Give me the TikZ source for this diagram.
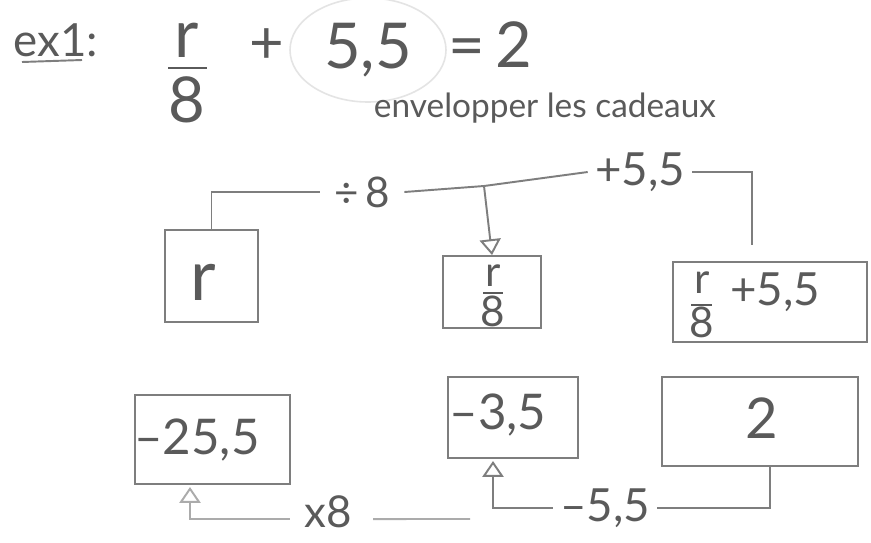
\documentclass[tikz,border=0pt]{standalone}
\usepackage{fontspec}
\setmainfont{Lato}
\usetikzlibrary{arrows.meta}
\definecolor{lead}{HTML}{5A5A5A}
\definecolor{graphite}{HTML}{7E7E7E}
\definecolor{faint}{HTML}{ABABAB}
\definecolor{ghost}{HTML}{E4E4E4}
\newcommand\fs[1]{\fontsize{#1}{#1}\selectfont}
\begin{document}
\begin{tikzpicture}[x=0.02cm,y=-0.02cm,
  pencil/.style={draw=graphite, line width=1.1pt},
  box/.style={draw=graphite, line width=1.1pt, inner sep=0pt},
  hand/.style={text=lead, inner sep=0pt},
  tip/.style={-{Triangle[open,length=9pt,width=12pt,line width=1.1pt]}}
]
\fill[white] (0,0) rectangle (871,542);
\useasboundingbox (0,0) rectangle (871,542);

% heading and the equation
\node[hand] (ex) at (56,40) {\fs{26}ex1:};
\draw[pencil] (22,62) -- (82,60);
\node[hand] (eqr) at (187,40) {\fs{38}r};
\draw[draw=lead, line width=1.1pt] (168,68) -- (207,68);
\node[hand] (eq8) at (187,100) {\fs{36}8};
\node[hand] (eqplus) at (267,46) {\fs{34}+};
\node[hand] (eq55) at (368,50) {\fs{36}5,5};
\draw[draw=ghost, line width=0.9pt] (368,50) ellipse [x radius=78, y radius=52];
\node[hand] (eqeq) at (490,45) {\fs{36}=\,2};
\node[hand] (env) at (545,108) {\fs{19}envelopper les cadeaux};

% first row of boxes
\node[box, minimum width=1.86cm, minimum height=1.84cm] (br) at (211.5,276) {};
\node[hand] (tr) at (203,282) {\fs{40}r};
\node[box, minimum width=1.96cm, minimum height=1.44cm] (br8) at (492,292) {};
\node[hand] (tr8) at (493,276) {\fs{24}r};
\draw[draw=lead, line width=1.1pt] (483,293) -- (503,293);
\node[hand] (t8) at (493,311) {\fs{24}8};
\node[box, minimum width=3.88cm, minimum height=1.6cm] (brp) at (770,302) {};
\node[hand] (trp) at (702,283) {\fs{24}r};
\draw[draw=lead, line width=1.1pt] (691,305) -- (712,305);
\node[hand] (trp8) at (702,322) {\fs{24}8};
\node[hand] (trp55) at (775,292) {\fs{26}+5,5};

% second row of boxes
\node[box, minimum width=3.1cm, minimum height=1.78cm] (b255) at (212.5,439.5) {};
\node[hand] (t255) at (197,440) {\fs{28}\textendash25,5};
\node[box, minimum width=2.6cm, minimum height=1.62cm] (b35) at (513,417.5) {};
\node[hand] (t35) at (498,415) {\fs{28}\textendash3,5};
\node[box, minimum width=3.92cm, minimum height=1.78cm] (b2) at (760,421.5) {};
\node[hand] (t2) at (762,418) {\fs{32}2};

% operation labels
\node[hand] (ldiv) at (362,192) {\fs{24}\textdiv\,8};
\node[hand] (lplus) at (640,172) {\fs{26}+5,5};
\node[hand] (lminus) at (605,508) {\fs{26}\textendash5,5};
\node[hand] (ltimes) at (328,512) {\fs{25}x8};

% turning points of the connectors
\coordinate (jdiv) at (484,186);
\coordinate (rpend) at (752,245);
\coordinate (up35) at (493,461);
\coordinate (up255) at (190,487);
\coordinate (xtail) at (470,519);

% top: r  ->  r/8  ->  r/8 + 5,5
\draw[pencil] (br.north) |- ([xshift=-8pt]ldiv.west);
\draw[pencil] ([xshift=8pt]ldiv.east) -- (jdiv);
\draw[pencil, tip] (jdiv) -- (br8.north);
\draw[pencil] (jdiv) -- ([xshift=-4pt]lplus.west);
\draw[pencil] ([xshift=4pt]lplus.east) -| (rpend);

% bottom: 2  ->  -3,5  ->  -25,5
\draw[pencil] (b2.south -| 770,0) |- ([xshift=4pt]lminus.east);
\draw[pencil, tip] ([xshift=-4pt]lminus.west) -| (up35);
\draw[draw=faint, line width=1.1pt] (xtail) -- ([xshift=12pt, yshift=-4pt]ltimes.east);
\draw[draw=faint, line width=1.1pt, tip] ([xshift=-8pt, yshift=-4pt]ltimes.west) -| (up255);
\end{tikzpicture}
\end{document}
